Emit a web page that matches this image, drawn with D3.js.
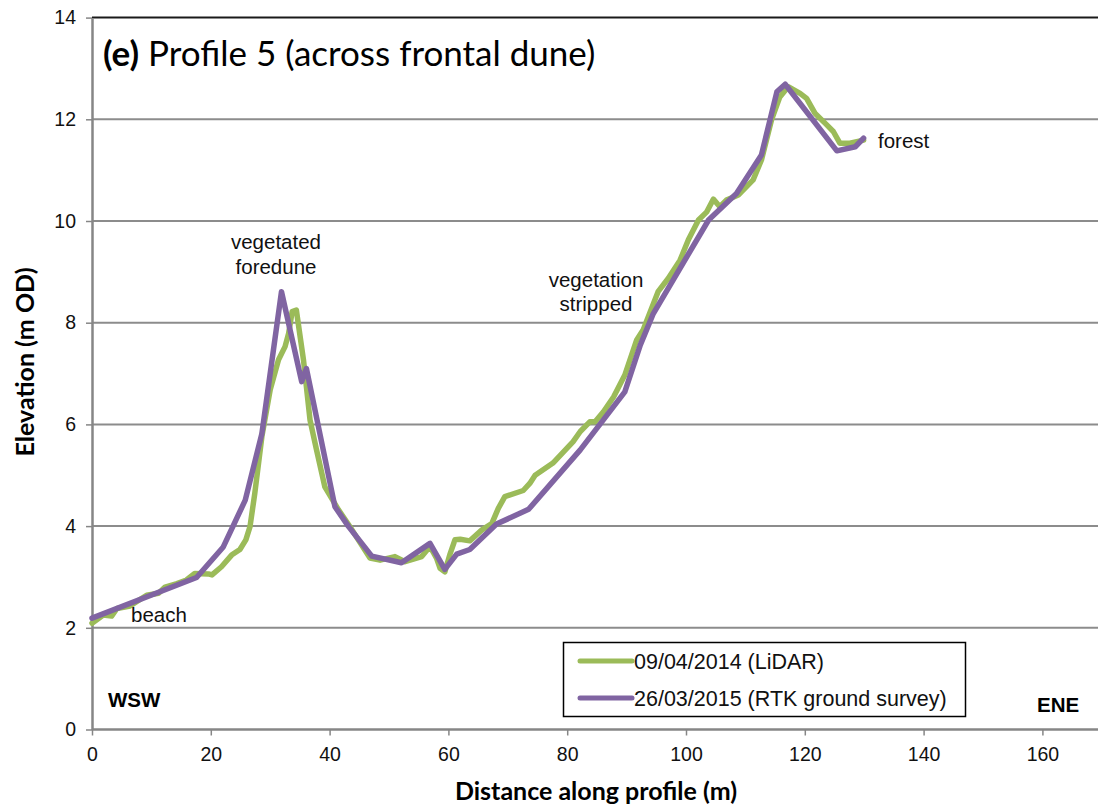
<!DOCTYPE html>
<html>
<head>
<meta charset="utf-8">
<script src="https://cdn.jsdelivr.net/npm/d3@7"></script>
<style>
  body { margin: 0; background: #fff; }
  svg { display: block; }
</style>
</head>
<body>
<script>
// Size of the page
var width = 1098;
var height = 807;

// Chart values
// 09/04/2014 (LiDAR) - distance (m)
var lidarDist = [0, 1.9, 3.3, 4.2, 6.4, 9.2, 11.2, 12.3, 14.3, 15.9, 17.3, 19.6, 20.2, 21.8, 23.5, 24.9,
  25.9, 26.6, 27.4, 28.6, 30.0, 31.4, 32.5, 33.1, 33.7, 34.4, 35.6, 36.7, 37.8, 39.2, 41.5, 43.4,
  46.8, 48.5, 51.0, 52.7, 55.5, 56.9, 58.0, 58.6, 59.4, 60.3, 61.1, 62.0, 63.6, 65.6, 67.3, 68.4,
  69.5, 72.6, 73.7, 74.6, 77.6, 81.0, 82.2, 83.8, 84.7, 86.1, 87.8, 89.7, 91.7, 92.8, 95.3, 97.0,
  99.0, 100.4, 102.1, 103.5, 104.6, 105.7, 106.8, 108.8, 111.3, 112.7, 114.4, 115.8, 117.2, 119.2,
  120.3, 121.7, 123.7, 124.8, 125.9, 127.6, 129.9];
// 09/04/2014 (LiDAR) - elevation (m OD)
var lidarElev = [2.09, 2.25, 2.23, 2.38, 2.43, 2.64, 2.68, 2.80, 2.87, 2.94, 3.07, 3.06, 3.04, 3.20, 3.43, 3.54,
  3.73, 3.99, 4.64, 5.76, 6.68, 7.27, 7.53, 7.79, 8.22, 8.25, 7.27, 6.09, 5.50, 4.77, 4.32, 3.99,
  3.37, 3.33, 3.40, 3.30, 3.40, 3.60, 3.37, 3.17, 3.10, 3.46, 3.73, 3.74, 3.71, 3.92, 4.05, 4.35,
  4.58, 4.70, 4.84, 5.00, 5.24, 5.66, 5.86, 6.05, 6.05, 6.25, 6.54, 6.97, 7.66, 7.86, 8.61, 8.87,
  9.23, 9.63, 10.02, 10.18, 10.43, 10.28, 10.41, 10.51, 10.81, 11.20, 11.99, 12.44, 12.64, 12.51,
  12.41, 12.12, 11.89, 11.76, 11.53, 11.53, 11.59];

// 26/03/2015 (RTK ground survey)
var rtkDist = [0, 17.6, 22.1, 25.8, 28.6, 31.9, 35.3, 36.1, 40.9, 43.2, 47.1, 52.1, 56.9, 59.4, 61.4, 63.6,
  68.1, 73.5, 82.2, 89.7, 92.3, 94.5, 103.8, 108.5, 112.7, 115.3, 116.7, 125.4, 128.5, 129.9];
var rtkElev = [2.19, 2.99, 3.59, 4.51, 5.82, 8.61, 6.84, 7.10, 4.38, 3.99, 3.41, 3.28, 3.66, 3.15, 3.45, 3.54,
  4.04, 4.33, 5.50, 6.64, 7.56, 8.18, 10.02, 10.54, 11.30, 12.54, 12.69, 11.38, 11.46, 11.63];

var seriesNames = ["09/04/2014 (LiDAR)", "26/03/2015 (RTK ground survey)"];
var seriesColors = ["#9bbb59", "#8064a2"];

var xTicks = [0, 20, 40, 60, 80, 100, 120, 140, 160];
var yTicks = [0, 2, 4, 6, 8, 10, 12, 14];

// Plot area
var plotLeft = 92, plotTop = 17.6, plotBottom = 729.5;

var x = d3.scaleLinear().domain([0, 170]).range([plotLeft, plotLeft + 170 * 5.94]);
var y = d3.scaleLinear().domain([0, 14]).range([plotBottom, plotTop]);

var svg = d3.select("body").append("svg")
  .attr("width", width)
  .attr("height", height);

// Horizontal gridlines
svg.append("g").selectAll("line")
  .data(yTicks.filter(function (d) { return d > 0; }))
  .enter().append("line")
  .attr("x1", plotLeft).attr("x2", width)
  .attr("y1", function (d) { return y(d); })
  .attr("y2", function (d) { return y(d); })
  .attr("stroke", function (d) { return d === 14 ? "#1a1a1a" : "#8c8c8c"; })
  .attr("stroke-width", 2);

// Axes
var xAxis = svg.append("g")
  .attr("transform", "translate(0," + plotBottom + ")")
  .call(d3.axisBottom(x).tickValues(xTicks).tickSize(6).tickSizeOuter(0).tickPadding(12));
var yAxis = svg.append("g")
  .attr("transform", "translate(" + plotLeft + ",0)")
  .call(d3.axisLeft(y).tickValues(yTicks).tickSize(6).tickSizeOuter(0).tickPadding(10));

[xAxis, yAxis].forEach(function (a) {
  a.select(".domain").attr("stroke", "#868686").attr("stroke-width", 2.5);
  a.selectAll(".tick line").attr("stroke", "#868686").attr("stroke-width", 1.5);
  a.selectAll(".tick text")
    .attr("font-family", "Liberation Sans, Arial, sans-serif")
    .attr("font-size", 19.5)
    .attr("fill", "#111");
});
xAxis.select(".domain").attr("d", "M" + plotLeft + ",0H" + width);

// Lines
var line = d3.line()
  .x(function (d) { return x(d[0]); })
  .y(function (d) { return y(d[1]); });

var lidar = d3.zip(lidarDist, lidarElev);
var rtk = d3.zip(rtkDist, rtkElev);

svg.append("path")
  .datum(lidar)
  .attr("d", line)
  .attr("fill", "none")
  .attr("stroke", seriesColors[0])
  .attr("stroke-width", 5.5)
  .attr("stroke-linejoin", "round")
  .attr("stroke-linecap", "round");

svg.append("path")
  .datum(rtk)
  .attr("d", line)
  .attr("fill", "none")
  .attr("stroke", seriesColors[1])
  .attr("stroke-width", 5.5)
  .attr("stroke-linejoin", "round")
  .attr("stroke-linecap", "round");

// Title
var title = svg.append("text")
  .attr("x", 103).attr("y", 66)
  .attr("font-family", "Lato, sans-serif")
  .attr("font-size", 35)
  .attr("fill", "#000");
title.append("tspan").attr("font-weight", "bold").text("(e)");
title.append("tspan").text(" Profile 5 (across frontal dune)");

// Annotations
var notes = [
  { t: "vegetated", x: 276, y: 249, a: "middle" },
  { t: "foredune", x: 276, y: 274, a: "middle" },
  { t: "vegetation", x: 596, y: 287, a: "middle" },
  { t: "stripped", x: 596, y: 311, a: "middle" },
  { t: "forest", x: 878, y: 148, a: "start" },
  { t: "beach", x: 131, y: 622, a: "start" }
];
svg.append("g").selectAll("text")
  .data(notes)
  .enter().append("text")
  .attr("x", function (d) { return d.x; })
  .attr("y", function (d) { return d.y; })
  .attr("text-anchor", function (d) { return d.a; })
  .attr("font-family", "Liberation Sans, Arial, sans-serif")
  .attr("font-size", 20.5)
  .attr("fill", "#111")
  .text(function (d) { return d.t; });

svg.append("text")
  .attr("x", 108).attr("y", 707)
  .attr("font-family", "Liberation Sans, Arial, sans-serif")
  .attr("font-size", 20.5).attr("font-weight", "bold")
  .text("WSW");
svg.append("text")
  .attr("x", 1037).attr("y", 712)
  .attr("font-family", "Liberation Sans, Arial, sans-serif")
  .attr("font-size", 20.5).attr("font-weight", "bold")
  .text("ENE");

// Axis titles
svg.append("text")
  .attr("x", 596).attr("y", 800)
  .attr("text-anchor", "middle")
  .attr("font-family", "Lato, sans-serif")
  .attr("font-size", 25).attr("font-weight", "bold")
  .text("Distance along profile (m)");
svg.append("text")
  .attr("transform", "translate(34,362) rotate(-90)")
  .attr("text-anchor", "middle")
  .attr("font-family", "Lato, sans-serif")
  .attr("font-size", 25).attr("font-weight", "bold")
  .text("Elevation (m OD)");

// Legend
var legend = svg.append("g");
legend.append("rect")
  .attr("x", 563.5).attr("y", 642.5)
  .attr("width", 402).attr("height", 74)
  .attr("fill", "#fff")
  .attr("stroke", "#000").attr("stroke-width", 1.5);
var items = legend.selectAll("g.item")
  .data(seriesNames)
  .enter().append("g")
  .attr("transform", function (d, i) { return "translate(0," + (661 + i * 37) + ")"; });
items.append("line")
  .attr("x1", 580).attr("x2", 632)
  .attr("stroke", function (d, i) { return seriesColors[i]; })
  .attr("stroke-width", 5)
  .attr("stroke-linecap", "round");
items.append("text")
  .attr("x", 634).attr("y", 7.5)
  .attr("font-family", "Liberation Sans, Arial, sans-serif")
  .attr("font-size", 21.5)
  .attr("fill", "#111")
  .text(function (d) { return d; });
</script>
</body>
</html>
